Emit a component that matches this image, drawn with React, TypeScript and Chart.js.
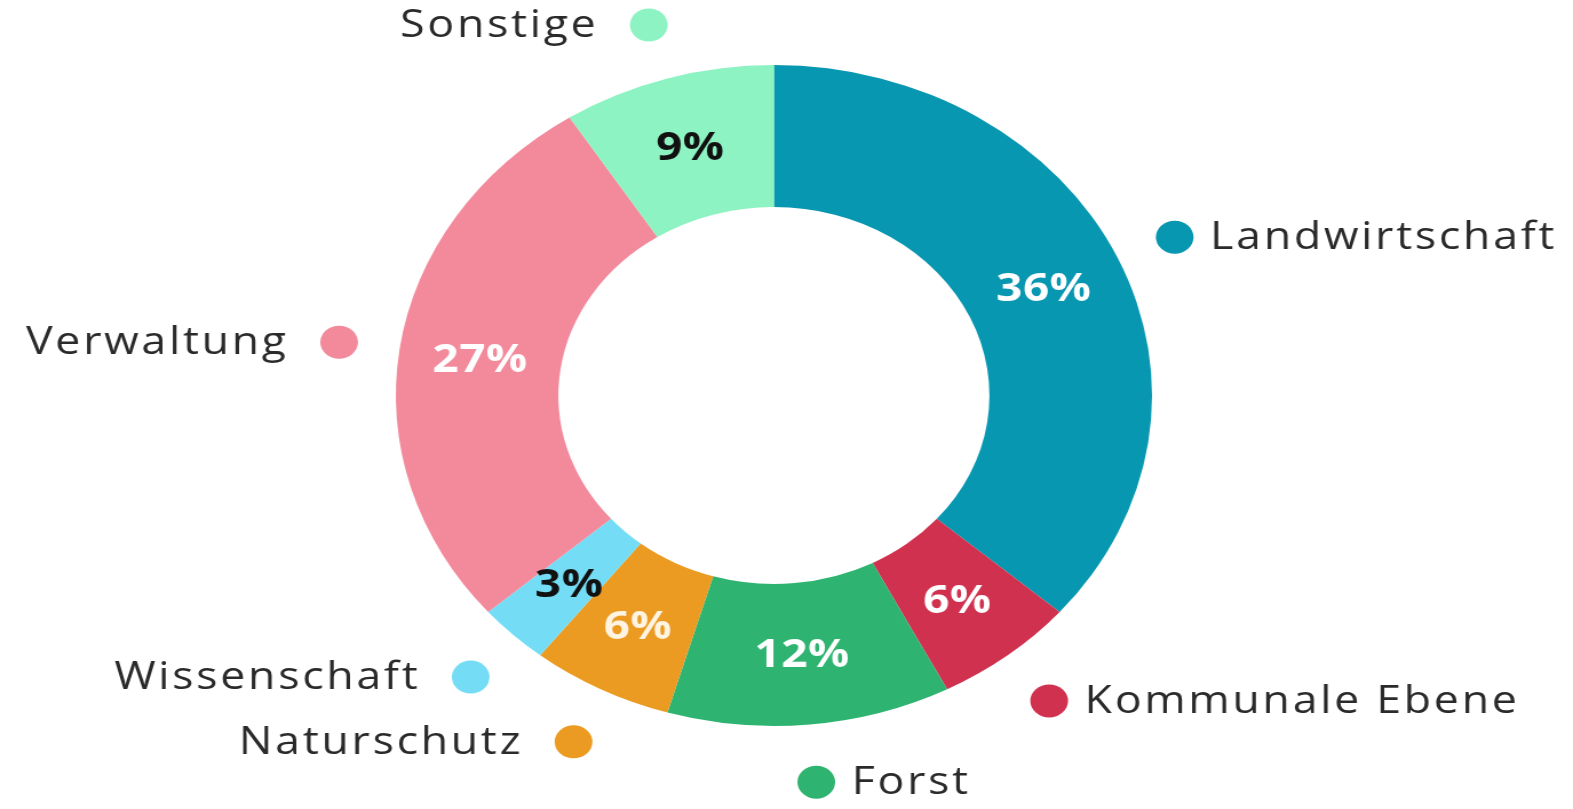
import React, { useEffect, useRef } from "react";
import { Chart, registerables } from "chart.js";

Chart.register(...registerables);

const categories = [
  "Landwirtschaft",
  "Kommunale Ebene",
  "Forst",
  "Naturschutz",
  "Wissenschaft",
  "Verwaltung",
  "Sonstige",
];
const values = [36, 6, 12, 6, 3, 27, 9];
const sliceColors = ["#0897B1", "#D0314F", "#2EB470", "#EB9B22", "#74DDF5", "#F28A9C", "#8EF3C2"];
const percentTextColors = ["#FFFFFF", "#FFFFFF", "#FFFFFF", "#FFF4E2", "#111111", "#FFFFFF", "#111111"];
// legend dot positions relative to chart center, in units of the outer radius
const legendDotOffsets: [number, number][] = [
  [1.06, -0.479],
  [0.728, 0.924],
  [0.112, 1.17],
  [-0.53, 1.048],
  [-0.802, 0.852],
  [-1.15, -0.161],
  [-0.331, -1.121],
];
const legendSides = ["right", "right", "right", "left", "left", "left", "left"];

const STRETCH = 755 / 660;
const PAGE_W = 1573;
const PAGE_H = 809;
const CANVAS_W = Math.round(PAGE_W / STRETCH);

const FONT = "'Open Sans', 'Noto Sans', sans-serif";

const labelPlugin = {
  id: "doughnutLabels",
  afterDatasetsDraw(chart: any) {
    const ctx = chart.ctx;
    const meta = chart.getDatasetMeta(0);
    ctx.save();
    meta.data.forEach((arc: any, i: number) => {
      const pos = arc.tooltipPosition();
      (ctx as any).letterSpacing = "0.5px";
      ctx.font = `700 40px ${FONT}`;
      ctx.fillStyle = percentTextColors[i];
      ctx.textAlign = "center";
      ctx.textBaseline = "middle";
      ctx.fillText(`${values[i]}%`, pos.x, pos.y + 2);

      const cx = arc.x;
      const cy = arc.y;
      const R = arc.outerRadius;
      const dx = cx + legendDotOffsets[i][0] * R;
      const dy = cy + legendDotOffsets[i][1] * R;
      ctx.beginPath();
      ctx.fillStyle = sliceColors[i];
      ctx.arc(dx, dy, 16.5, 0, Math.PI * 2);
      ctx.fill();

      (ctx as any).letterSpacing = "2.4px";
      ctx.font = `400 39px ${FONT}`;
      ctx.fillStyle = "#2A2A2A";
      ctx.textBaseline = "middle";
      if (legendSides[i] === "right") {
        ctx.textAlign = "left";
        ctx.fillText(categories[i], dx + 31, dy + 1);
      } else {
        ctx.textAlign = "right";
        ctx.fillText(categories[i], dx - 44, dy + 1);
      }
    });
    ctx.restore();
  },
};

export default function App() {
  const ref = useRef<HTMLCanvasElement | null>(null);
  useEffect(() => {
    if (!ref.current) return;
    const chart = new Chart(ref.current, {
      type: "doughnut",
      data: {
        labels: categories,
        datasets: [
          {
            data: values,
            backgroundColor: sliceColors,
            borderWidth: 0,
            hoverOffset: 0,
          },
        ],
      },
      options: {
        responsive: false,
        devicePixelRatio: 1,
        animation: false,
        cutout: "57%",
        events: [],
        layout: { padding: { left: 0, right: 22, top: 65, bottom: 83 } },
        plugins: {
          legend: { display: false },
          tooltip: { enabled: false },
        },
      },
      plugins: [labelPlugin],
    } as any);
    return () => chart.destroy();
  }, []);
  return (
    <div style={{ position: "fixed", left: 0, top: 0, width: PAGE_W, height: PAGE_H, background: "#fff" }}>
      <canvas
        ref={ref}
        width={CANVAS_W}
        height={PAGE_H}
        style={{ width: PAGE_W + "px", height: PAGE_H + "px", display: "block" }}
      />
    </div>
  );
}
